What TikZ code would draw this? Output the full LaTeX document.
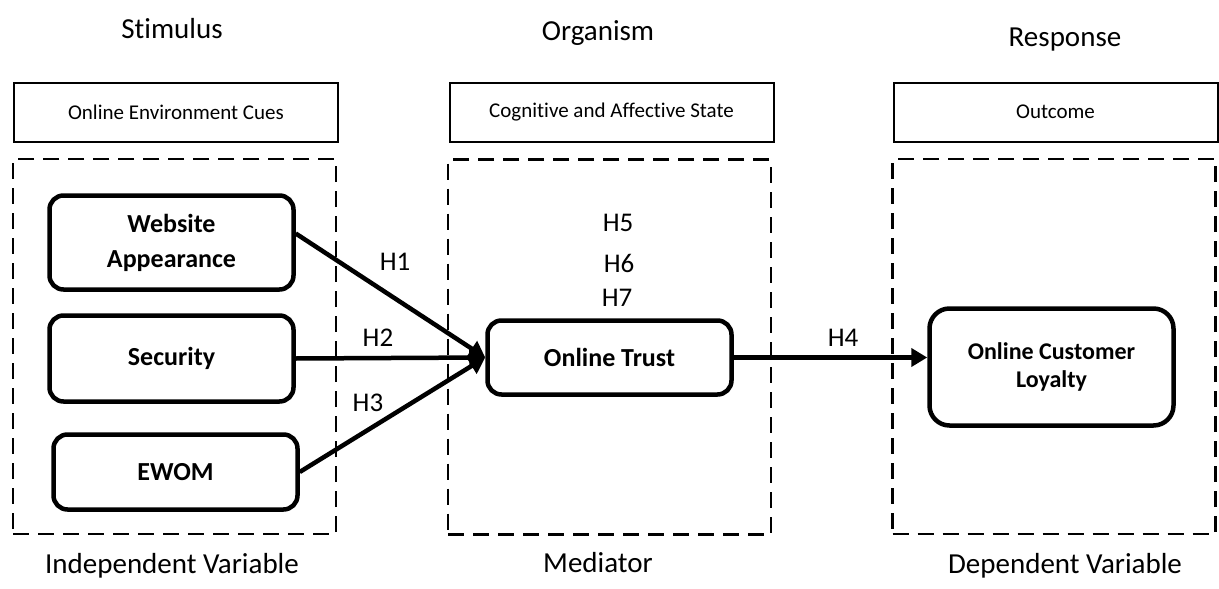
\documentclass[tikz,border=0pt]{standalone}
\usepackage{fontspec}
\setmainfont{Carlito}[Ligatures=NoCommon]
\usetikzlibrary{arrows.meta}

\begin{document}
\begin{tikzpicture}[x=1pt, y=-1pt,
  head/.style={anchor=base, font=\fontsize{29}{34}\selectfont},
  cue/.style={draw, line width=2pt, minimum width=324pt, minimum height=59pt,
    font=\fontsize{21}{25}\selectfont},
  zone/.style={draw, line width=2.5pt, dash pattern=on 16pt off 9pt,
    minimum width=323pt, minimum height=375pt},
  var/.style={draw, line width=4.5pt, rounded corners=14pt, minimum width=244pt,
    align=center, font=\bfseries\fontsize{26}{35}\selectfont},
  hyp/.style={font=\fontsize{27}{32}\selectfont},
  link/.style={line width=4.5pt, -{Triangle[length=16pt,width=18pt]}}]
  \useasboundingbox (0,0) rectangle (1219,589);

  % headings
  \node[head] (stim) at (172,38) {Stimulus};
  \node[head] (orga) at (598,40) {Organism};
  \node[head] (resp) at (1065,46) {Response};
  \node[head] (indep) at (172,573) {Independent Variable};
  \node[head] (medi) at (598,572) {Mediator};
  \node[head] (dep) at (1065,573) {Dependent Variable};

  \node[cue] (cues) at (176,112.5) {Online Environment Cues};
  \node[cue] (state) at (611.5,112.5) {Cognitive and Affective State};
  \node[cue] (outc) at (1055.5,112) {Outcome};

  \node[zone] (zleft) at (174.5,346.5) {};
  \node[zone] (zmid) at (609.5,347) {};
  \node[zone] (zright) at (1054,346.5) {};

  % variables
  \node[var, minimum height=94pt] (web) at (171.5,242.5) {Website\\Appearance};
  \node[var, minimum height=86pt] (sec) at (171.5,358.5) {Security};
  \node[var, minimum height=75pt] (ewom) at (175.5,472) {EWOM};
  \node[var, minimum height=74pt] (trust) at (609.5,357.5) {Online Trust};
  \node[var, minimum height=117pt, rounded corners=20pt,
    font=\bfseries\fontsize{24}{28}\selectfont] (loyal) at (1051.5,367)
    {Online Customer\\Loyalty};

  \draw[link] ([yshift=9pt]web.east) -- (trust.west);
  \draw[link] (sec.east) -- (trust.west);
  \draw[link] (ewom.east) -- (trust.west);
  \draw[link] (trust.east) -- (trust.east -| loyal.west);

  % hypotheses
  \node[hyp] (h1) at (395,262) {H1};
  \node[hyp] (h2) at (378,338) {H2};
  \node[hyp] (h3) at (368,403) {H3};
  \node[hyp] (h4) at (843,338) {H4};
  \node[hyp] (h5) at (618,223) {H5};
  \node[hyp] (h6) at (619,263) {H6};
  \node[hyp] (h7) at (617,298) {H7};
\end{tikzpicture}
\end{document}
